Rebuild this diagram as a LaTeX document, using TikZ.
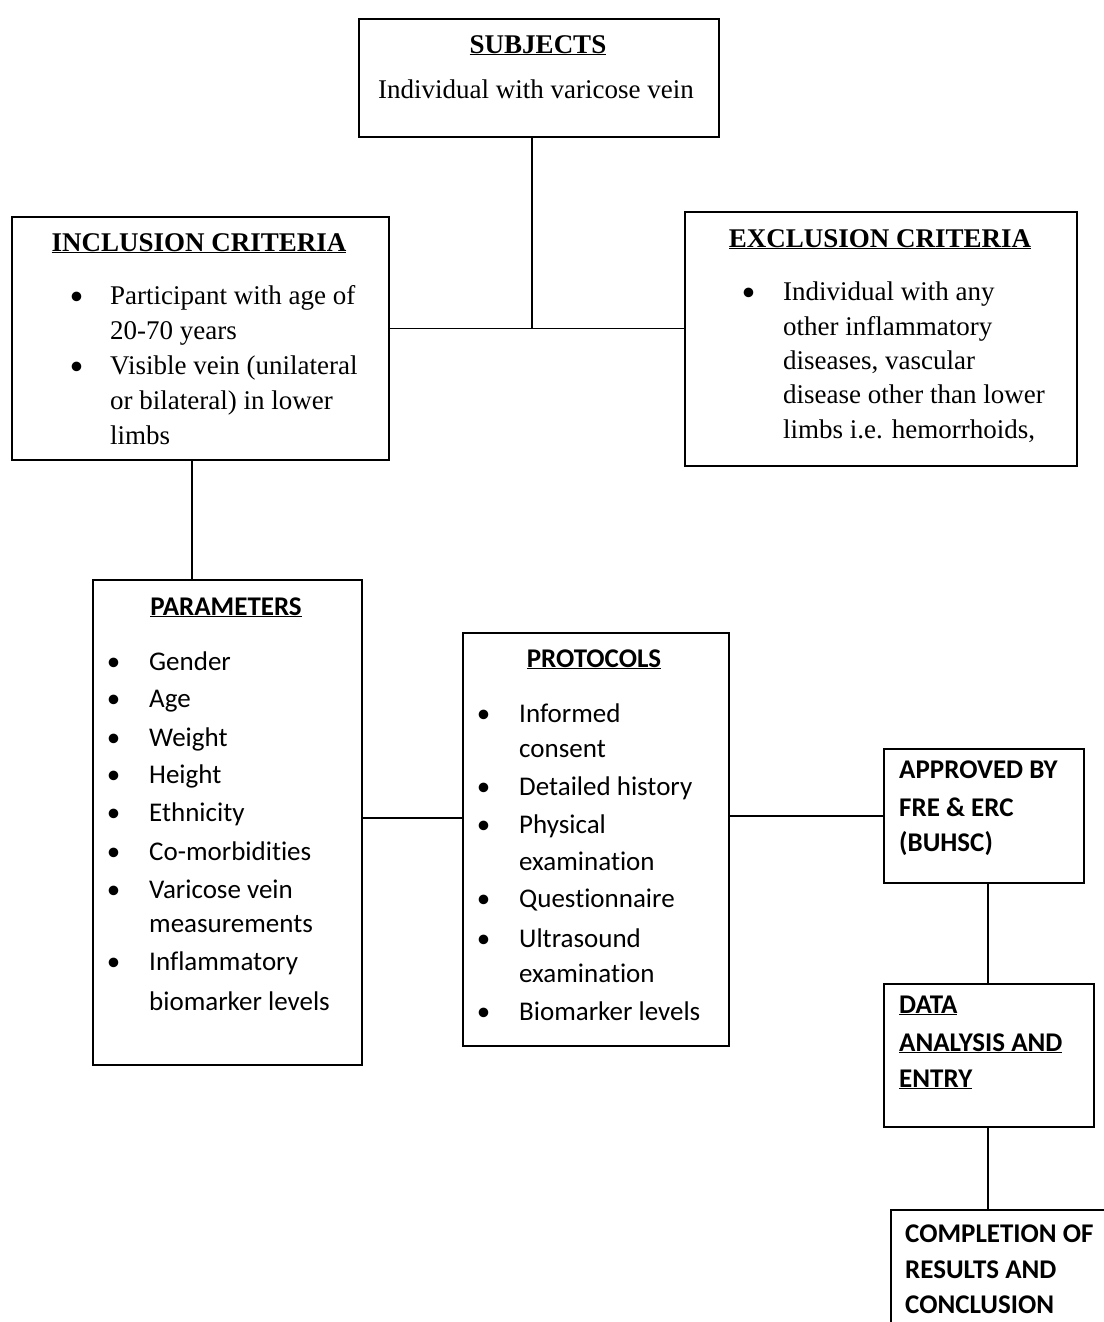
\documentclass[tikz,border=0pt]{standalone}
\usepackage{fontspec}
\setmainfont{Liberation Serif}
\newfontfamily\calfont[Ligatures=NoCommon]{Carlito}
\newcommand\mybul[1][29pt]{\llap{{\calfont\textbullet}\hspace{#1}}}
\tikzset{
  box/.style={draw, line width=1.8pt, inner sep=0pt, anchor=north west, rectangle},
  conn/.style={line width=1.8pt},
  sr/.style={inner sep=0pt, font=\fontsize{27}{35}\selectfont},
  ss/.style={inner sep=0pt, font=\calfont\fontsize{27}{35}\selectfont},
  lt/.style={anchor=base west},
  ct/.style={anchor=base},
}
\begin{document}
\begin{tikzpicture}[x=1pt,y=-1pt]
\useasboundingbox (0,0) rectangle (1103,1322);
\fill[white] (0,0) rectangle (1103,1322);

% boxes
\node[box, minimum width=360pt, minimum height=118pt] (subj) at (358,18) {};
\node[box, minimum width=377pt, minimum height=243pt] (incl) at (11,216) {};
\node[box, minimum width=392pt, minimum height=254pt] (excl) at (684,211) {};
\node[box, minimum width=269pt, minimum height=485pt] (param) at (92,579) {};
\node[box, minimum width=266pt, minimum height=413pt] (prot) at (462,632) {};
\node[box, minimum width=200pt, minimum height=134pt] (appr) at (883,748) {};
\node[box, minimum width=210pt, minimum height=143pt] (data) at (883,983) {};
\node[box, minimum width=260pt, minimum height=160pt] (comp) at (890,1209) {};

% subjects
\node[sr,ct] (s0) at (538,53) {\textbf{\underline{SUBJECTS}}};
\node[sr,ct] (s1) at (536,98) {Individual with varicose vein};

% inclusion
\node[sr,ct] (i0) at (199,251) {\textbf{\underline{INCLUSION CRITERIA}}};
\node[sr,lt] (i1) at (110,304) {\mybul[27pt]Participant with age of};
\node[sr,lt] (i2) at (110,339) {20-70 years};
\node[sr,lt] (i3) at (110,374) {\mybul[27pt]Visible vein (unilateral};
\node[sr,lt] (i4) at (110,409) {or bilateral) in lower};
\node[sr,lt] (i5) at (110,444) {limbs};

% exclusion
\node[sr,ct] (e0) at (880,247) {\textbf{\underline{EXCLUSION CRITERIA}}};
\node[sr,lt] (e1) at (783,300) {\mybul[28pt]Individual with any};
\node[sr,lt] (e2) at (783,335) {other inflammatory};
\node[sr,lt] (e3) at (783,369) {diseases, vascular};
\node[sr,lt] (e4) at (783,403) {disease other than lower};
\node[sr,lt] (e5) at (783,438) {limbs i.e. hemorrhoids,};

% parameters
\node[ss,ct] (p0) at (226,615) {\textbf{\underline{PARAMETERS}}};
\node[ss,lt] (p1) at (149,670) {\mybul Gender};
\node[ss,lt] (p2) at (149,707) {\mybul Age};
\node[ss,lt] (p3) at (149,746) {\mybul Weight};
\node[ss,lt] (p4) at (149,783) {\mybul Height};
\node[ss,lt] (p5) at (149,821) {\mybul Ethnicity};
\node[ss,lt] (p6) at (149,860) {\mybul Co-morbidities};
\node[ss,lt] (p7) at (149,898) {\mybul Varicose vein};
\node[ss,lt] (p8) at (149,932) {measurements};
\node[ss,lt] (p9) at (149,970) {\mybul Inflammatory};
\node[ss,lt] (p10) at (149,1010) {biomarker levels};

% protocols
\node[ss,ct] (r0) at (594,667) {\textbf{\underline{PROTOCOLS}}};
\node[ss,lt] (r1) at (519,722) {\mybul Informed};
\node[ss,lt] (r2) at (519,757) {consent};
\node[ss,lt] (r3) at (519,795) {\mybul Detailed history};
\node[ss,lt] (r4) at (519,833) {\mybul Physical};
\node[ss,lt] (r5) at (519,870) {examination};
\node[ss,lt] (r6) at (519,907) {\mybul Questionnaire};
\node[ss,lt] (r7) at (519,947) {\mybul Ultrasound};
\node[ss,lt] (r8) at (519,982) {examination};
\node[ss,lt] (r9) at (519,1020) {\mybul Biomarker levels};

% approved
\node[ss,lt] (a1) at (899,778) {\textbf{APPROVED BY}};
\node[ss,lt] (a2) at (899,816) {\textbf{FRE \& ERC}};
\node[ss,lt] (a3) at (899,851) {\textbf{(BUHSC)}};

% data
\node[ss,lt] (d1) at (899,1013) {\textbf{\underline{DATA}}};
\node[ss,lt] (d2) at (899,1051) {\textbf{\underline{ANALYSIS AND}}};
\node[ss,lt] (d3) at (899,1087) {\textbf{\underline{ENTRY}}};

% completion
\node[ss,lt] (c1t) at (905,1242) {\textbf{COMPLETION OF}};
\node[ss,lt] (c2t) at (905,1278) {\textbf{RESULTS AND}};
\node[ss,lt] (c3t) at (905,1313) {\textbf{CONCLUSION}};

% connectors
\coordinate (j) at (532,328.5);
\coordinate (cx1) at (192,0);
\coordinate (cy2) at (0,818);
\coordinate (cy3) at (0,816);
\coordinate (cx4) at (988,0);
\draw[conn] (subj.south -| j) -- (j);
\draw[conn] (j -| incl.east) -- (j) -- (j -| excl.west);
\draw[conn] (incl.south -| cx1) -- (param.north -| cx1);
\draw[conn] (param.east |- cy2) -- (prot.west |- cy2);
\draw[conn] (prot.east |- cy3) -- (appr.west |- cy3);
\draw[conn] (appr.south -| cx4) -- (data.north -| cx4);
\draw[conn] (data.south -| cx4) -- (comp.north -| cx4);
\end{tikzpicture}
\end{document}
